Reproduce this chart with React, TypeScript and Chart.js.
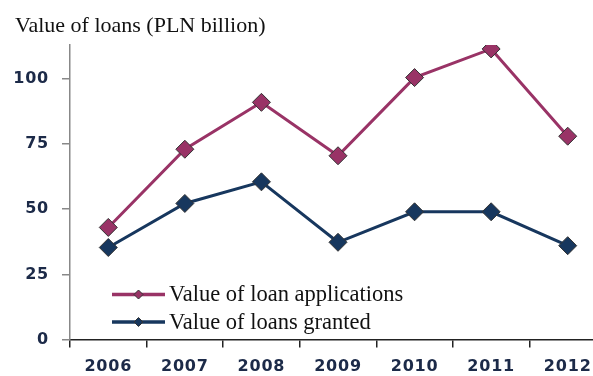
import React, { useEffect, useRef } from "react";
import { Chart, registerables } from "chart.js";

Chart.register(...registerables);

const years = ["2006", "2007", "2008", "2009", "2010", "2011", "2012"];
const applications = [43, 73, 91, 70.5, 100.5, 111.5, 78];
const granted = [35.3, 52.2, 60.5, 37.3, 49, 49, 36];
const seriesNames = ["Value of loan applications", "Value of loans granted"];
const titleText = "Value of loans (PLN billion)";

const appColor = "#993366";
const grantedColor = "#17375e";
const serif = "'Liberation Serif', 'DejaVu Serif', serif";
const tickFont = "'DejaVu Sans', Verdana, sans-serif";

export default function App() {
  const ref = useRef<HTMLCanvasElement | null>(null);

  useEffect(() => {
    const canvas = ref.current;
    if (!canvas) return;

    const decor = {
      id: "decor",
      beforeDraw(chart: any) {
        chart.ctx.letterSpacing = "0.8px";
      },
      beforeDatasetsDraw(chart: any) {
        chart.ctx.letterSpacing = "0px";
      },
      afterDraw(chart: any) {
        const ctx = chart.ctx;
        ctx.save();
        ctx.letterSpacing = "0px";
        ctx.fillStyle = "#111111";
        ctx.font = `22px ${serif}`;
        ctx.textAlign = "left";
        ctx.textBaseline = "alphabetic";
        ctx.fillText(titleText, 15, 32);

        const rows = [294.5, 322];
        chart.data.datasets.forEach((ds: any, i: number) => {
          const y = rows[i];
          ctx.strokeStyle = ds.borderColor;
          ctx.lineWidth = 3.5;
          ctx.beginPath();
          ctx.moveTo(112, y);
          ctx.lineTo(165, y);
          ctx.stroke();
          ctx.fillStyle = ds.pointBackgroundColor;
          ctx.strokeStyle = "#333333";
          ctx.lineWidth = 1;
          const r = 4.5;
          ctx.beginPath();
          ctx.moveTo(138.5, y - r);
          ctx.lineTo(138.5 + r, y);
          ctx.lineTo(138.5, y + r);
          ctx.lineTo(138.5 - r, y);
          ctx.closePath();
          ctx.fill();
          ctx.stroke();
          ctx.fillStyle = "#111111";
          ctx.font = `22.5px ${serif}`;
          ctx.textBaseline = "middle";
          ctx.fillText(ds.label, 169, y + 1);
        });
        ctx.restore();
      },
    };

    const chart = new Chart(canvas, {
      type: "line",
      data: {
        labels: years,
        datasets: [
          {
            label: seriesNames[0],
            data: applications,
            borderColor: appColor,
            backgroundColor: appColor,
            pointBackgroundColor: appColor,
            pointBorderColor: "#333333",
            pointBorderWidth: 1,
            pointStyle: "rectRot",
            pointRadius: 9,
            borderWidth: 3,
            tension: 0,
          },
          {
            label: seriesNames[1],
            data: granted,
            borderColor: grantedColor,
            backgroundColor: grantedColor,
            pointBackgroundColor: grantedColor,
            pointBorderColor: "#333333",
            pointBorderWidth: 1,
            pointStyle: "rectRot",
            pointRadius: 9,
            borderWidth: 3,
            tension: 0,
          },
        ],
      },
      options: {
        animation: false,
        responsive: false,
        maintainAspectRatio: false,
        layout: { padding: { top: 45, left: 0, right: 0, bottom: 0 } },
        plugins: {
          legend: { display: false },
          title: { display: false },
          tooltip: { enabled: false },
        },
        scales: {
          x: {
            type: "category",
            offset: true,
            grid: {
              offset: true,
              drawOnChartArea: false,
              drawTicks: true,
              tickLength: 8,
              color: "#222222",
              lineWidth: 1.5,
            },
            border: { display: true, color: "#222222", width: 1.5 },
            ticks: {
              color: "#1c2a48",
              font: { family: tickFont, size: 16, weight: "bold" },
              padding: 10,
              maxRotation: 0,
              autoSkip: false,
            },
            afterFit(scale: any) {
              scale.height = 376 - 339.5;
              scale.paddingLeft = 0;
              scale.paddingRight = 0;
            },
          },
          y: {
            min: 0,
            max: 113,
            grid: {
              drawOnChartArea: false,
              drawTicks: true,
              tickLength: 8,
              color: "#888888",
              lineWidth: 1.5,
            },
            border: { display: true, color: "#888888", width: 1.5 },
            ticks: {
              stepSize: 25,
              includeBounds: false,
              color: "#1c2a48",
              font: { family: tickFont, size: 16, weight: "bold" },
              padding: 13,
            },
            afterFit(scale: any) {
              scale.width = 70;
              scale.paddingTop = 0;
              scale.paddingBottom = 0;
            },
          },
        },
      },
      plugins: [decor],
    });

    return () => chart.destroy();
  }, []);

  return (
    <div
      style={{
        position: "fixed",
        left: 0,
        top: 0,
        width: 593,
        height: 376,
        overflow: "hidden",
        background: "#ffffff",
      }}
    >
      <canvas ref={ref} width={616} height={376} style={{ display: "block" }} />
    </div>
  );
}
